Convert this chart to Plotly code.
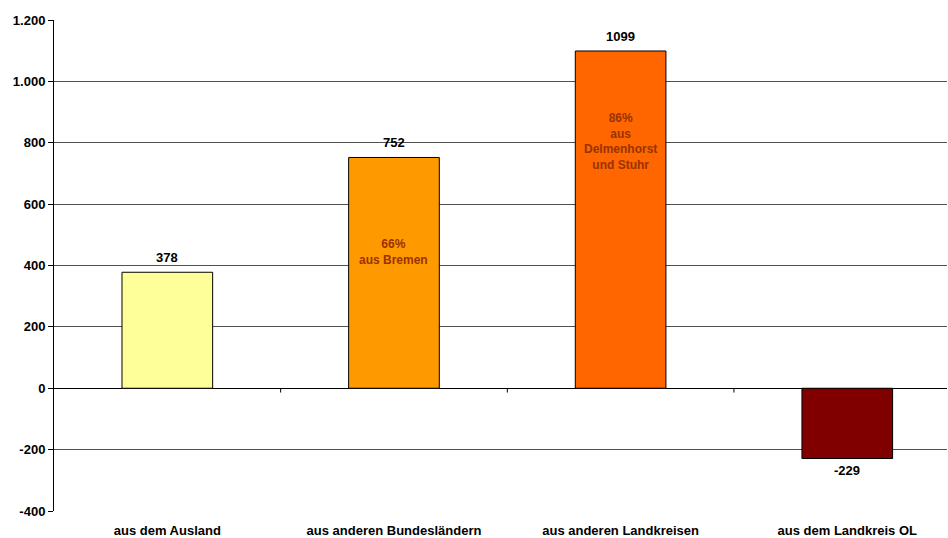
import plotly.graph_objects as go

categories = ["aus dem Ausland", "aus anderen Bundesländern", "aus anderen Landkreisen", "aus dem Landkreis OL"]
values = [378, 752, 1099, -229]
colors = ["#FFFF99", "#FF9900", "#FF6600", "#800000"]
inner_notes = ["", "66%<br>aus Bremen", "86%<br>aus<br>Delmenhorst<br>und Stuhr", ""]
inner_note_y = [0, 445, 805, 0]
y_ticks = [-400, -200, 0, 200, 400, 600, 800, 1000, 1200]


def de_fmt(v):
    s = f"{abs(v):,}".replace(",", ".")
    return ("-" if v < 0 else "") + s


FONT = "Arial, Liberation Sans, sans-serif"

fig = go.Figure()
fig.add_trace(go.Bar(
    x=categories, y=values,
    marker=dict(color=colors, line=dict(color="black", width=1)),
    width=0.4,
    cliponaxis=False,
    hoverinfo="skip",
))

# value labels above / below bars
for c, v in zip(categories, values):
    fig.add_annotation(x=c, y=v, text="<b>" + str(v) + "</b>", showarrow=False,
                       yanchor="bottom" if v >= 0 else "top",
                       yshift=5 if v >= 0 else -2,
                       font=dict(family=FONT, size=13, color="black"))

for c, note, ny in zip(categories, inner_notes, inner_note_y):
    if note:
        fig.add_annotation(x=c, y=ny, text="<b>" + note + "</b>", showarrow=False,
                           font=dict(family=FONT, size=12, color="#993300"))

# tick marks at category boundaries on the zero line
for i in range(1, len(categories)):
    fig.add_shape(type="line", xref="x", yref="y", x0=i - 0.5, x1=i - 0.5, y0=0, y1=-14,
                  line=dict(color="black", width=1))

fig.update_layout(
    width=948, height=538,
    margin=dict(l=54, r=1, t=20, b=27, autoexpand=False),
    paper_bgcolor="white", plot_bgcolor="white",
    showlegend=False,
    font=dict(family=FONT, size=13, color="black"),
)
fig.update_xaxes(
    showgrid=False, showline=False, zeroline=False, ticks="",
    tickfont=dict(family=FONT, size=13, color="black", weight="bold"),
    ticklabelstandoff=10,
    range=[-0.5, 3.44], automargin=False,
)
fig.update_yaxes(
    range=[-400, 1200], tickvals=y_ticks, ticktext=[de_fmt(v) for v in y_ticks],
    showgrid=True, gridcolor="#505050", gridwidth=1,
    zeroline=True, zerolinecolor="black", zerolinewidth=1,
    showline=True, linecolor="black", linewidth=1,
    ticks="outside", ticklen=5, tickcolor="black",
    tickfont=dict(family=FONT, size=13, color="black", weight="bold"),
    automargin=False,
)

fig.write_html("out.html",
               config={"displayModeBar": False},
               post_script="document.body.style.margin='0';document.body.style.overflow='hidden';")
